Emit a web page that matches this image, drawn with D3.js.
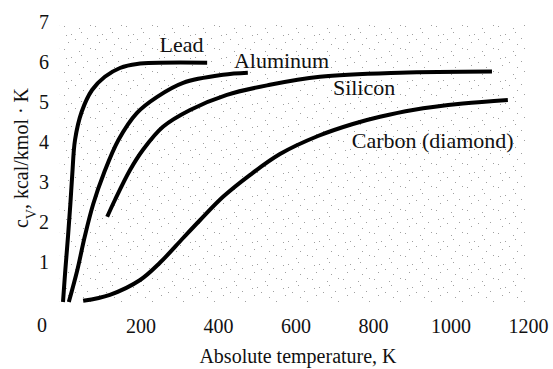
<!DOCTYPE html>
<html>
<head>
<meta charset="utf-8">
<script src="https://cdn.jsdelivr.net/npm/d3@7/dist/d3.min.js"></script>
<style>
  html, body { margin: 0; padding: 0; background: #fff; }
  svg { display: block; }
</style>
</head>
<body>
<script>
// Molar heat capacity at constant volume vs absolute temperature
const xTicks = [200, 400, 600, 800, 1000, 1200];
const yTicks = [1, 2, 3, 4, 5, 6, 7];

// [temperature K, cv kcal/kmol·K]
const lead = [[0, 0], [6, 0.8], [13, 1.65], [19, 2.45], [24, 3.2], [31, 4.05], [48, 4.75],
  [75, 5.3], [108, 5.63], [147, 5.85], [191, 5.95], [372, 5.98]];
const aluminum = [[15, 0], [37, 0.8], [56, 1.63], [78, 2.45], [106, 3.23], [143, 4.05],
  [191, 4.73], [243, 5.13], [310, 5.48], [413, 5.68], [477, 5.73]];
const silicon = [[114, 2.13], [134, 2.55], [173, 3.3], [206, 3.8], [258, 4.38], [328, 4.8],
  [423, 5.18], [534, 5.43], [663, 5.63], [870, 5.73], [1107, 5.76]];
const carbon = [[52, 0.03], [121, 0.18], [199, 0.55], [250, 0.98], [310, 1.6], [354, 2.05],
  [413, 2.63], [483, 3.18], [560, 3.7], [658, 4.15], [748, 4.45], [818, 4.63],
  [903, 4.8], [1032, 4.96], [1148, 5.05]];

const seriesNames = ["Lead", "Aluminum", "Silicon", "Carbon (diamond)"];
const seriesData = [lead, aluminum, silicon, carbon];
// label anchor points in data units (T, cv): text centre, baseline
const labelPos = [[306, 6.25], [564, 5.85], [777, 5.18], [954, 3.85]];

const SERIF = '"Liberation Serif"';
const W = 553, H = 369;
const x = d3.scaleLinear().domain([0, 1200]).range([63, 528]);
const y = d3.scaleLinear().domain([0, 7]).range([302, 22]);

const svg = d3.select("body").append("svg").attr("width", W).attr("height", H);

// stippled screen behind the plot
const defs = svg.append("defs");
const pat = defs.append("pattern").attr("id", "stipple")
  .attr("patternUnits", "userSpaceOnUse").attr("width", 31).attr("height", 23);
const dots = [[2, 3], [9, 11], [17, 5], [25, 15], [6, 19], [21, 21], [13, 16], [28, 2], [4, 12], [19, 9]];
pat.selectAll("rect").data(dots).join("rect")
  .attr("x", d => d[0]).attr("y", d => d[1]).attr("width", 1).attr("height", 1)
  .attr("fill", "#777");
svg.append("rect")
  .attr("x", x(-8)).attr("y", y(7)).attr("width", x(1200) - x(-8)).attr("height", y(0) - y(7))
  .attr("fill", "url(#stipple)").attr("opacity", 0.7);

// axes (labels only)
const xAxis = svg.append("g").attr("transform", `translate(0,${y(0) + 13})`)
  .call(d3.axisBottom(x).tickValues(xTicks).tickFormat(d3.format("d")).tickSize(0).tickPadding(0));
const yAxis = svg.append("g").attr("transform", `translate(${x(0) - 13},0)`)
  .call(d3.axisLeft(y).tickValues(yTicks).tickFormat(d3.format("d")).tickSize(0).tickPadding(0));
[xAxis, yAxis].forEach(g => {
  g.select(".domain").remove();
  g.attr("font-family", SERIF).attr("font-size", 20);
  g.selectAll("text").style("font-family", SERIF)
    .style("font-size", "20px").attr("fill", "#111");
});
xAxis.selectAll("text").attr("dy", "0.9em");
yAxis.selectAll("text").attr("text-anchor", "middle").attr("dx", "-0.3em").attr("dy", "0.33em");

// shared origin label
svg.append("text").attr("x", x(0) - 21).attr("y", y(0) + 30)
  .attr("text-anchor", "middle").attr("fill", "#111")
  .style("font-family", SERIF).style("font-size", "20px").text("0");

// axis titles
svg.append("text").attr("x", 298).attr("y", 363).attr("text-anchor", "middle").attr("fill", "#111")
  .style("font-family", SERIF).style("font-size", "20px").text("Absolute temperature, K");
const yt = svg.append("text").attr("transform", "translate(28,158) rotate(-90)")
  .attr("text-anchor", "middle").attr("fill", "#111")
  .style("font-family", SERIF).style("font-size", "20px");
yt.append("tspan").text("c");
yt.append("tspan").attr("baseline-shift", "sub").style("font-size", "14px").text("V");
yt.append("tspan").text(", kcal/kmol · K");

// curves
const line = d3.line().x(d => x(d[0])).y(d => y(d[1])).curve(d3.curveCatmullRom.alpha(0.5));
svg.append("g").selectAll("path").data(seriesData).join("path")
  .attr("d", line).attr("fill", "none").attr("stroke", "#000")
  .attr("stroke-width", 4).attr("stroke-linecap", "butt");

// series labels
svg.append("g").selectAll("text").data(seriesNames).join("text")
  .attr("x", (d, i) => x(labelPos[i][0])).attr("y", (d, i) => y(labelPos[i][1]))
  .attr("text-anchor", "middle").attr("fill", "#111")
  .style("font-family", SERIF).style("font-size", "22px").text(d => d);
</script>
</body>
</html>
